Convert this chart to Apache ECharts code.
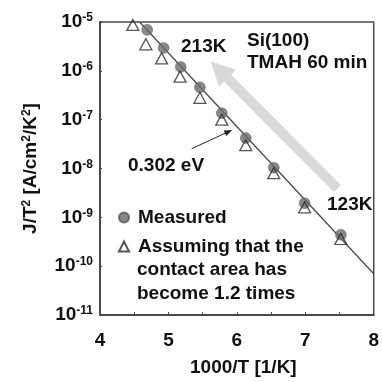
<!DOCTYPE html>
<html>
<head>
<meta charset="utf-8">
<script src="https://cdn.jsdelivr.net/npm/echarts@6/dist/echarts.min.js"></script>
<style>
  html, body { margin: 0; padding: 0; background: #fff; }
  #chart { width: 382px; height: 382px; }
</style>
</head>
<body>
<div id="chart"></div>
<script>
// 1000/T [1/K] and J/T^2
const measuredX = [4.69, 4.93, 5.18, 5.46, 5.78, 6.13, 6.54, 6.99, 7.52];
const measuredY = [6.9e-6, 2.95e-6, 1.2e-6, 4.6e-7, 1.36e-7, 4.2e-8, 1.04e-8, 1.95e-9, 4.4e-10];
const assumedX = [4.48, 4.67, 4.9, 5.17, 5.46, 5.78, 6.13, 6.54, 6.99, 7.52];
const assumedY = [8.7e-6, 3.5e-6, 1.8e-6, 7.6e-7, 2.8e-7, 1.0e-7, 3.0e-8, 8.0e-9, 1.6e-9, 3.6e-10];
const fitX = [4.58, 8.0];
const fitY = [1e-5, 7e-11];
const xTicks = [4, 5, 6, 7, 8];
const yTickExp = { 1e-5: '-5', 1e-6: '-6', 1e-7: '-7', 1e-8: '-8', 1e-9: '-9', 1e-10: '-10', 1e-11: '-11' };

// annotation arrows, in data coords: [tail, head]
const trendArrow = [[7.47, 3.9e-9], [5.74, 1.05e-6]];
const slopeArrow = [[5.34, 2.54e-8], [5.88, 5.7e-8]];

const FONT = '"Liberation Sans", Arial, sans-serif';
const AXIS_COLOR = '#4a4a4a';

const zip = (xs, ys) => xs.map((x, i) => [x, ys[i]]);

const chart = echarts.init(document.getElementById('chart'));

const label = (text, x, y) => ({
  type: 'text',
  x: x,
  y: y,
  style: {
    text: text,
    fontFamily: FONT,
    fontWeight: 'bold',
    fontSize: 19,
    fill: '#111',
    verticalAlign: 'middle',
    align: 'left',
  },
});

const option = {
  animation: false,
  grid: {
    left: 100,
    top: 22,
    right: 5,
    bottom: 64,
    show: true,
    borderColor: AXIS_COLOR,
    borderWidth: 1.5,
  },
  xAxis: {
    type: 'value',
    min: xTicks[0],
    max: xTicks[xTicks.length - 1],
    interval: 1,
    name: '1000/T [1/K]',
    nameLocation: 'middle',
    nameGap: 43,
    nameTextStyle: { fontFamily: FONT, fontWeight: 'bold', fontSize: 19, color: '#111', padding: [0, 0, 0, 13] },
    axisLine: { lineStyle: { color: AXIS_COLOR, width: 2 } },
    axisTick: { inside: true, length: 3, lineStyle: { color: AXIS_COLOR } },
    minorTick: { show: true, splitNumber: 2, length: 3, lineStyle: { color: AXIS_COLOR } },
    splitLine: { show: false },
    axisLabel: {
      margin: 16,
      fontFamily: FONT,
      fontWeight: 'bold',
      fontSize: 19,
      lineHeight: 20,
      color: '#111',
    },
  },
  yAxis: {
    type: 'log',
    logBase: 10,
    min: 1e-11,
    max: 1e-5,
    name: 'J/T{sup|2} [A/cm{sup|2}/K{sup|2}]',
    nameLocation: 'middle',
    nameGap: 60,
    nameTextStyle: {
      fontFamily: FONT,
      fontWeight: 'bold',
      fontSize: 19,
      color: '#111',
      rich: {
        sup: { fontFamily: FONT, fontWeight: 'bold', fontSize: 12, verticalAlign: 'top', color: '#111' },
      },
    },
    axisLine: { show: true, lineStyle: { color: AXIS_COLOR, width: 2 } },
    axisTick: { inside: true, length: 2, lineStyle: { color: AXIS_COLOR } },
    splitLine: { show: false },
    axisLabel: {
      margin: 7,
      formatter: (v) => {
        const key = Object.keys(yTickExp).find((k) => Math.abs(Math.log10(+k) - Math.log10(v)) < 0.01);
        return '{b|10}{s|' + (key ? yTickExp[key] : '') + '}';
      },
      rich: {
        b: { fontFamily: FONT, fontWeight: 'bold', fontSize: 19, lineHeight: 20, color: '#111' },
        s: { fontFamily: FONT, fontWeight: 'bold', fontSize: 12, lineHeight: 12, verticalAlign: 'top', color: '#111' },
      },
    },
  },
  legend: {
    orient: 'vertical',
    left: 118,
    top: 206,
    padding: 0,
    itemGap: 6,
    itemWidth: 10,
    itemHeight: 10,
    selectedMode: false,
    textStyle: { fontFamily: FONT, fontWeight: 'bold', fontSize: 19, lineHeight: 23, color: '#111', padding: [0, 0, 0, 4] },
    data: [
      { name: 'Measured', icon: 'circle' },
      { name: 'Assuming that the', icon: 'triangle' },
    ],
  },
  series: [
    {
      name: 'fit',
      type: 'line',
      data: zip(fitX, fitY),
      showSymbol: false,
      lineStyle: { color: '#444', width: 1.2 },
      z: 1,
    },
    {
      name: 'Measured',
      type: 'scatter',
      data: zip(measuredX, measuredY),
      symbol: 'circle',
      symbolSize: 11,
      itemStyle: { color: '#6a6a6a', borderColor: '#555', borderWidth: 0.5 },
      z: 2,
    },
    {
      name: 'Assuming that the',
      type: 'scatter',
      data: zip(assumedX, assumedY),
      symbol: 'triangle',
      symbolSize: [12, 11],
      itemStyle: { color: 'rgba(255,255,255,0)', borderColor: '#2a2a2a', borderWidth: 1.3 },
      z: 3,
    },
    {
      name: 'arrows',
      type: 'scatter',
      data: [],
      silent: true,
      markLine: {
        silent: true,
        animation: false,
        label: { show: false },
        emphasis: { disabled: true },
        data: [
          [
            { coord: trendArrow[0], symbol: 'none' },
            { coord: trendArrow[1], symbol: 'triangle', symbolSize: [24, 24] },
          ],
          [
            { coord: slopeArrow[0], symbol: 'none', lineStyle: { color: '#222', width: 1, type: 'solid' } },
            { coord: slopeArrow[1], symbol: 'triangle', symbolSize: [6, 8] },
          ],
        ],
        lineStyle: { color: '#d9d9d9', width: 10, type: 'solid', opacity: 1 },
      },
      z: 0,
    },
  ],
  graphic: [
    label('213K', 181, 47),
    label('Si(100)', 247, 41),
    label('TMAH 60 min', 247, 63),
    label('0.302 eV', 128, 166),
    label('123K', 327, 205),
    label('contact area has', 137, 270),
    label('become 1.2 times', 137, 294),
  ],
};

chart.setOption(option);
</script>
</body>
</html>
